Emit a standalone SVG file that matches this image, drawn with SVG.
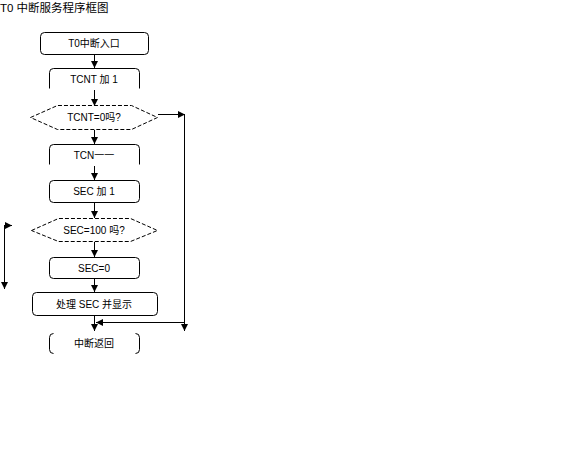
<svg xmlns="http://www.w3.org/2000/svg" width="561" height="458" viewBox="0 0 561 458">
<defs>
<marker id="ah" viewBox="0 0 10 10" refX="10" refY="5" markerWidth="7" markerHeight="7" markerUnits="userSpaceOnUse" orient="auto">
<path d="M0,0 L10,5 L0,10 z" fill="#000"/>
</marker>
</defs>
<style>
.b{fill:none;stroke:#000;stroke-width:1}
.d{fill:none;stroke:#000;stroke-width:1;stroke-dasharray:4,2}
.c{fill:none;stroke:#000;stroke-width:1;marker-end:url(#ah)}
text{font-family:"Liberation Sans","Noto Sans CJK SC",sans-serif;font-size:10px;fill:#000;text-anchor:middle}
.t{font-size:11.5px;text-anchor:start}
</style>
<rect width="561" height="458" fill="#fff"/>
<text class="t" x="0" y="12">T0 中断服务程序框图</text>
<g id="n1"><rect class="b" x="40.5" y="32.5" width="108" height="22" rx="4"/><text x="94" y="47">T0中断入口</text></g>
<g id="n2"><path class="b" d="M49.5,88.5 V72.5 Q49.5,68.5 53.5,68.5 H135.5 Q139.5,68.5 139.5,72.5 V88.5"/><text x="94" y="83">TCNT 加 1</text></g>
<g id="n3"><polygon class="d" points="30.5,117.5 57.5,105.5 131.5,105.5 157.5,117.5 131.5,129.5 57.5,129.5"/><text x="94" y="121">TCNT=0吗?</text></g>
<g id="n4"><path class="b" d="M49.5,164.5 V148.5 Q49.5,144.5 53.5,144.5 H135.5 Q139.5,144.5 139.5,148.5 V164.5"/><text x="94" y="159">TCN一一</text></g>
<g id="n5"><rect class="b" x="49.5" y="180.5" width="90" height="22" rx="4"/><text x="94" y="195">SEC 加 1</text></g>
<g id="n6"><polygon class="d" points="31.5,230.5 58.5,218.5 130.5,218.5 157.5,230.5 130.5,241.5 58.5,241.5"/><text x="94" y="234">SEC=100 吗?</text></g>
<g id="n7"><rect class="b" x="49.5" y="257.5" width="90" height="21" rx="4"/><text x="94" y="272">SEC=0</text></g>
<g id="n8"><rect class="b" x="32.5" y="292.5" width="125" height="23" rx="4"/><text x="94" y="308">处理 SEC 并显示</text></g>
<g id="n9"><path class="b" d="M53.5,333.5 Q49.5,333.5 49.5,337.5 V349.5 Q49.5,353.5 53.5,353.5 M135.5,333.5 Q139.5,333.5 139.5,337.5 V349.5 Q139.5,353.5 135.5,353.5"/><text x="94" y="347">中断返回</text></g>
<g id="connectors">
<line class="c" x1="94.5" y1="55" x2="94.5" y2="68"/>
<line class="c" x1="94.5" y1="90" x2="94.5" y2="106"/>
<line class="c" x1="94.5" y1="130" x2="94.5" y2="144"/>
<line class="c" x1="94.5" y1="166" x2="94.5" y2="180"/>
<line class="c" x1="94.5" y1="203" x2="94.5" y2="218"/>
<line class="c" x1="94.5" y1="242" x2="94.5" y2="257"/>
<line class="c" x1="94.5" y1="279" x2="94.5" y2="292"/>
<line class="c" x1="94.5" y1="316" x2="94.5" y2="331"/>
<line class="c" x1="158" y1="114.5" x2="185" y2="114.5"/>
<line class="c" x1="184.5" y1="114" x2="184.5" y2="331"/>
<line class="c" x1="184.5" y1="322.5" x2="96" y2="322.5"/>
<line class="c" x1="4.5" y1="225.5" x2="12" y2="225.5"/>
<line class="c" x1="4.5" y1="225" x2="4.5" y2="289"/>
</g>
</svg>
